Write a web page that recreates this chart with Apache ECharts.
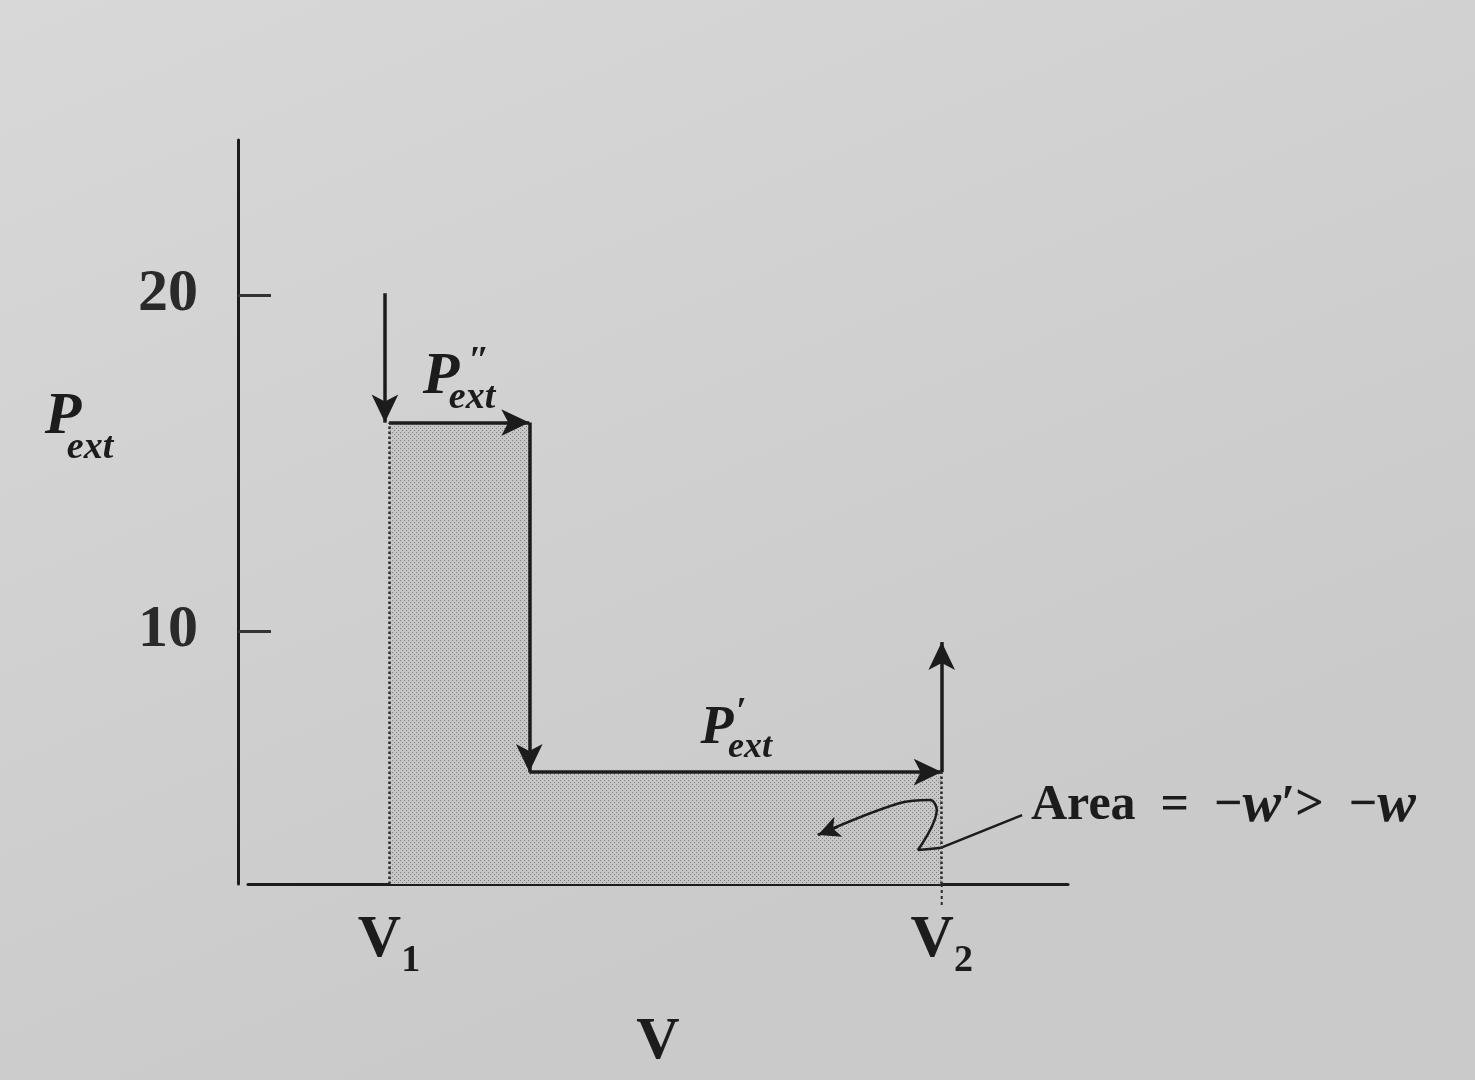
<!DOCTYPE html>
<html><head><meta charset="utf-8">
<script src="https://cdn.jsdelivr.net/npm/echarts@6/dist/echarts.min.js"></script>
<style>html,body{margin:0;padding:0;background:#d2d2d2}#c{width:1475px;height:1080px}</style>
</head><body><div id="c"></div>
<script>
// ---- data ----
const volumes = [17.2, 34.3, 84.6];          // V1, intermediate volume, V2
const pressures = [16.2, 5.8];                // P''ext, P'ext
const startPressure = 20.05;                  // top of the initial downward arrow
const releasePressure = 9.67;                 // top of the final upward arrow
const yTickValues = [10, 20];
const xTickNames = ['1', '2'];                // subscripts of V1, V2
const yRange = [2.47, 24.61];
const xRange = [0, 100];
const squigglePts = [[84.4, 3.54], [81.7, 3.48], [84.0, 4.67], [83.2, 4.97], [79.5, 4.88], [69.5, 3.93]];
const squiggleHeadFrom = [71.95, 4.17];
const leaderPts = [[84.4, 3.54], [94.4, 4.52]];

const V1 = volumes[0], Vm = volumes[1], V2 = volumes[2];
const P2 = pressures[0], P1 = pressures[1];
const SERIF = '"Liberation Serif", "DejaVu Serif", serif';
const INK = '#1c1c1c';

// stipple pattern
const pc = document.createElement('canvas');
pc.width = 4; pc.height = 4;
const pctx = pc.getContext('2d');
pctx.fillStyle = '#c6c6c6'; pctx.fillRect(0, 0, 4, 4);
pctx.fillStyle = '#7e7e7e'; pctx.fillRect(0, 0, 1, 1); pctx.fillRect(2, 2, 1, 1);

const chart = echarts.init(document.getElementById('c'), null, {renderer: 'canvas'});

const arrowLine = (a, b) => [{coord: a}, {coord: b}];
const dotted = (a, b) => [{coord: a, symbol: 'none', lineStyle: {type: 'dotted', width: 2.5, color: '#2a2a2a'}}, {coord: b, symbol: 'none'}];

const option = {
  animation: false,
  backgroundColor: {type: 'linear', x: 0, y: 0, x2: 0.3, y2: 1,
    colorStops: [{offset: 0, color: '#d8d8d8'}, {offset: 1, color: '#cacaca'}]},
  grid: {left: 248, top: 140, width: 820, height: 744, containLabel: false},
  xAxis: {
    type: 'value', min: xRange[0], max: xRange[1],
    axisLine: {show: true, onZero: false, lineStyle: {color: INK, width: 3}},
    axisTick: {show: false},
    splitLine: {show: false},
    axisLabel: {
      customValues: [V1, V2], margin: 16, color: INK,
      formatter: v => '{v|V}{s|' + (Math.abs(v - V1) < 1e-6 ? xTickNames[0] : xTickNames[1]) + '}',
      fontFamily: SERIF, fontWeight: 'bold', fontSize: 60,
      rich: {
        v: {fontFamily: SERIF, fontWeight: 'bold', fontSize: 60, color: INK},
        s: {fontFamily: SERIF, fontWeight: 'bold', fontSize: 38, padding: [42, 0, 0, 0], color: INK}
      }
    },
    name: 'V', nameLocation: 'middle', nameGap: 128,
    nameTextStyle: {fontFamily: SERIF, fontWeight: 'bold', fontSize: 60, color: INK}
  },
  yAxis: {
    type: 'value', min: yRange[0], max: yRange[1], offset: 10,
    axisLine: {show: true, onZero: false, lineStyle: {color: INK, width: 3}},
    axisTick: {show: true, inside: true, length: 33, customValues: yTickValues, lineStyle: {color: '#333', width: 3}},
    splitLine: {show: false},
    axisLabel: {customValues: yTickValues, margin: 40, fontFamily: SERIF, fontWeight: 'bold', fontSize: 60, color: '#2a2a2a'}
  },
  series: [
    {
      type: 'line', z: 2,
      data: [[V1, P2], [Vm, P2], [Vm, P1], [V2, P1]],
      showSymbol: false, symbol: 'none',
      lineStyle: {width: 0, opacity: 0},
      areaStyle: {origin: 'start', color: {image: pc, repeat: 'repeat'}, opacity: 1},
      markLine: {
        silent: true, animation: false,
        symbol: ['none', 'arrow'], symbolSize: [20, 28],
        label: {show: false},
        lineStyle: {color: INK, width: 3.5, type: 'solid'},
        data: [
          arrowLine([V1 - 0.5, startPressure], [V1 - 0.5, P2]),
          arrowLine([V1, P2], [Vm, P2]),
          arrowLine([Vm, P2], [Vm, P1]),
          arrowLine([Vm, P1], [V2, P1]),
          arrowLine([V2, P1], [V2, releasePressure]),
          dotted([V1, yRange[0]], [V1, P2]),
          dotted([V2, yRange[0]], [V2, P1])
        ]
      }
    },
    {
      type: 'line', z: 4, data: squigglePts, smooth: 0.35, symbol: 'none',
      lineStyle: {color: INK, width: 2.5},
      markLine: {
        silent: true, animation: false, symbol: ['none', 'arrow'], symbolSize: [16, 22],
        label: {show: false}, lineStyle: {color: INK, width: 2.5, type: 'solid'},
        data: [arrowLine(squiggleHeadFrom, squigglePts[squigglePts.length - 1])]
      }
    },
    {
      type: 'line', z: 4, data: leaderPts, symbol: 'none',
      lineStyle: {color: INK, width: 2.5}
    }
  ],
  graphic: [
    {type: 'text', z: 10, style: {text: 'P', x: 63, y: 417, align: 'center', verticalAlign: 'middle', font: 'italic bold 60px ' + SERIF, fill: INK}},
    {type: 'text', z: 10, style: {text: 'ext', x: 90, y: 448, align: 'center', verticalAlign: 'middle', font: 'italic bold 38px ' + SERIF, fill: INK}},
    {type: 'text', z: 10, style: {text: 'P', x: 441, y: 377, align: 'center', verticalAlign: 'middle', font: 'italic bold 60px ' + SERIF, fill: INK}},
    {type: 'text', z: 10, style: {text: '″', x: 479, y: 362, align: 'center', verticalAlign: 'middle', font: 'italic bold 38px ' + SERIF, fill: INK}},
    {type: 'text', z: 10, style: {text: 'ext', x: 472, y: 398, align: 'center', verticalAlign: 'middle', font: 'italic bold 38px ' + SERIF, fill: INK}},
    {type: 'text', z: 10, style: {text: 'P', x: 717, y: 729, align: 'center', verticalAlign: 'middle', font: 'italic bold 54px ' + SERIF, fill: INK}},
    {type: 'text', z: 10, style: {text: '′', x: 741, y: 713, align: 'center', verticalAlign: 'middle', font: 'italic bold 38px ' + SERIF, fill: INK}},
    {type: 'text', z: 10, style: {text: 'ext', x: 750, y: 748, align: 'center', verticalAlign: 'middle', font: 'italic bold 36px ' + SERIF, fill: INK}},
    {type: 'text', z: 10, style: {
      text: '{a|Area  =  −}{i|w}{a|′>  −}{i|w}', x: 1031, y: 806, align: 'left', verticalAlign: 'middle',
      rich: {a: {font: 'bold 50px ' + SERIF, fill: INK, color: INK}, i: {font: 'italic bold 58px ' + SERIF, fill: INK, color: INK}}
    }}
  ]
};
chart.setOption(option);

// short dotted tick below the axis at V2
const base = chart.convertToPixel({gridIndex: 0}, [V2, yRange[0]]);
chart.setOption({graphic: option.graphic.concat([{
  type: 'line', z: 10, shape: {x1: base[0], y1: base[1], x2: base[0], y2: base[1] + 22},
  style: {stroke: '#2a2a2a', lineWidth: 2, lineDash: [3, 3]}
}])});
</script>
</body></html>
